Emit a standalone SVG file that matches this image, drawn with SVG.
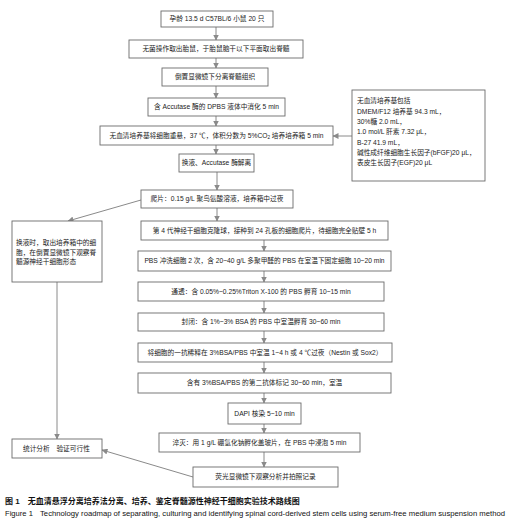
<svg xmlns="http://www.w3.org/2000/svg" width="516" height="527" viewBox="0 0 516 527">
<style>
.box{fill:#fff;stroke:#6b6b6b;stroke-width:0.9}
.t{font-family:"Liberation Sans","Noto Sans CJK SC",sans-serif;font-size:6.7px;fill:#222}
.c{text-anchor:middle}
.ln{stroke:#8a8a8a;stroke-width:1;fill:none;marker-end:url(#ah)}
.cap{font-family:"Liberation Sans","Noto Sans CJK SC",sans-serif;fill:#111}
</style>
<defs>
<marker id="ah" markerUnits="userSpaceOnUse" markerWidth="6" markerHeight="6" refX="5.5" refY="3" orient="auto">
<path d="M0,0 L6,3 L0,6 z" fill="#8a8a8a"/>
</marker>
</defs>
<rect width="516" height="527" fill="#fff"/>
<g id="connectors">
<line class="ln" x1="216" y1="27" x2="216" y2="40"/>
<line class="ln" x1="216" y1="58" x2="216" y2="68"/>
<line class="ln" x1="216" y1="86" x2="216" y2="98"/>
<line class="ln" x1="216" y1="116" x2="216" y2="126"/>
<line class="ln" x1="216" y1="145" x2="216" y2="154"/>
<line class="ln" x1="217" y1="172" x2="217" y2="190"/>
<line class="ln" x1="217" y1="208" x2="217" y2="221"/>
<line class="ln" x1="264" y1="240" x2="264" y2="251"/>
<line class="ln" x1="264" y1="271" x2="264" y2="282"/>
<line class="ln" x1="264" y1="301" x2="264" y2="313"/>
<line class="ln" x1="264" y1="331" x2="264" y2="343"/>
<line class="ln" x1="264" y1="362" x2="264" y2="373"/>
<line class="ln" x1="264" y1="393" x2="264" y2="403"/>
<line class="ln" x1="264" y1="424" x2="264" y2="433"/>
<line class="ln" x1="264" y1="452" x2="264" y2="467"/>
<line class="ln" x1="352" y1="136" x2="333" y2="136"/>
<line class="ln" x1="141" y1="200" x2="68" y2="221"/>
<line class="ln" x1="57" y1="282" x2="57" y2="439"/>
<line class="ln" x1="193" y1="477" x2="102" y2="450"/>
</g>
<g id="n1"><rect class="box" x="161" y="11" width="112" height="16"/><text class="t c" x="217" y="21.3">孕龄 13.5 d C57BL/6 小鼠 20 只</text></g>
<g id="n2"><rect class="box" x="129" y="40" width="174" height="18"/><text class="t c" x="216" y="51.3">无菌操作取出胎鼠，于胎鼠脑干以下平面取出脊髓</text></g>
<g id="n3"><rect class="box" x="162" y="68" width="106" height="18"/><text class="t c" x="215" y="79.3">倒置显微镜下分离脊髓组织</text></g>
<g id="n4"><rect class="box" x="148" y="98" width="137" height="18"/><text class="t c" x="216.5" y="109.3">含 Accutase 酶的 DPBS 液体中消化 5 min</text></g>
<g id="n5"><rect class="box" x="100" y="126" width="233" height="19"/><text class="t c" x="216.5" y="137.8">无血清培养基将细胞重悬，37 ℃，体积分数为 5%CO<tspan font-size="4.6" dy="1.5">2</tspan><tspan dy="-1.5"> 培养培养箱 5 min</tspan></text></g>
<g id="n_medium"><rect class="box" x="352" y="90" width="133" height="91"/>
<text class="t" x="357" y="103.3">无血清培养基包括</text>
<text class="t" x="357" y="113.6">DMEM/F12 培养基 94.3 mL，</text>
<text class="t" x="357" y="123.9">30%糖 2.0 mL，</text>
<text class="t" x="357" y="134.2">1.0 mol/L 肝素 7.32 μL，</text>
<text class="t" x="357" y="144.5">B-27 41.9 mL，</text>
<text class="t" x="357" y="154.8">碱性成纤维细胞生长因子(bFGF)20 μL，</text>
<text class="t" x="357" y="165.1">表皮生长因子(EGF)20 μL</text>
</g>
<g id="n6"><rect class="box" x="179" y="154" width="75" height="18"/><text class="t c" x="216.5" y="165.3">换液、Accutase 酶解离</text></g>
<g id="n7"><rect class="box" x="141" y="190" width="152" height="18"/><text class="t c" x="217" y="201.3">爬片：0.15 g/L 聚鸟氨酸溶液，培养箱中过夜</text></g>
<g id="n8"><rect class="box" x="141" y="221" width="247" height="19"/><text class="t c" x="264.5" y="232.8">第 4 代神经干细胞克隆球，接种到 24 孔板的细胞爬片，待细胞完全贴壁 5 h</text></g>
<g id="n9"><rect class="box" x="138" y="251" width="253" height="20"/><text class="t c" x="264.5" y="263.3">PBS 冲洗细胞 2 次，含 20~40 g/L 多聚甲醛的 PBS 在室温下固定细胞 10~20 min</text></g>
<g id="n10"><rect class="box" x="138" y="282" width="246" height="19"/><text class="t c" x="261" y="293.8">通透：含 0.05%~0.25%Triton X-100 的 PBS 孵育 10~15 min</text></g>
<g id="n11"><rect class="box" x="138" y="313" width="246" height="18"/><text class="t c" x="261" y="324.3">封闭：含 1%~3% BSA 的 PBS 中室温孵育 30~60 min</text></g>
<g id="n12"><rect class="box" x="138" y="343" width="254" height="19"/><text class="t c" x="265" y="354.8">将细胞的一抗稀释在 3%BSA/PBS 中室温 1~4 h 或 4 ℃过夜（Nestin 或 Sox2）</text></g>
<g id="n13"><rect class="box" x="138" y="373" width="253" height="20"/><text class="t c" x="264.5" y="385.3">含有 3%BSA/PBS 的第二抗体标记 30~60 min，室温</text></g>
<g id="n14"><rect class="box" x="228" y="403" width="73" height="21"/><text class="t c" x="264.5" y="415.8">DAPI 核染 5~10 min</text></g>
<g id="n15"><rect class="box" x="159" y="433" width="201" height="19"/><text class="t c" x="259.5" y="444.8">淬灭：用 1 g/L 硼氢化钠孵化盖玻片，在 PBS 中浸泡 5 min</text></g>
<g id="n16"><rect class="box" x="193" y="467" width="145" height="20"/><text class="t c" x="265.5" y="479.3">荧光显微镜下观察分析并拍照记录</text></g>
<g id="n_left"><rect class="box" x="12" y="221" width="90" height="61"/>
<text class="t" x="16" y="245.3">换液时，取出培养箱中的细</text>
<text class="t" x="16" y="254.8">胞，在倒置显微镜下观察脊</text>
<text class="t" x="16" y="264.3">髓源神经干细胞形态</text>
</g>
<g id="n_stat"><rect class="box" x="12" y="439" width="90" height="19"/><text class="t" x="23" y="450.8">统计分析　验证可行性</text></g>
<text class="cap" x="5" y="504" font-size="8" font-weight="bold">图 1　无血清悬浮分离培养法分离、培养、鉴定脊髓源性神经干细胞实验技术路线图</text>
<text class="cap" x="5" y="516" font-size="7.6">Figure 1</text>
<text class="cap" x="40" y="516" font-size="7.6" textLength="465" lengthAdjust="spacingAndGlyphs">Technology roadmap of separating, culturing and identifying spinal cord-derived stem cells using serum-free medium suspension method</text>
</svg>
